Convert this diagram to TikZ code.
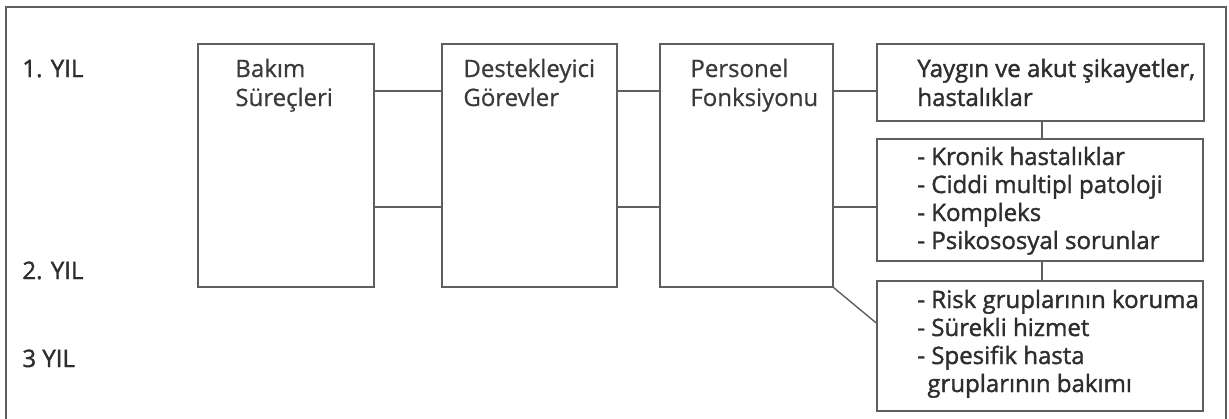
\documentclass[tikz,border=0pt]{standalone}
\usepackage{fontspec}
\setmainfont{Open Sans}
\newfontfamily\regf[FakeBold=0.7]{Open Sans}
\newfontfamily\semib[FakeBold=1.5]{Open Sans}
\usetikzlibrary{fit}
\definecolor{ink}{HTML}{3A3A3A}
\definecolor{inkdark}{HTML}{2E2E2E}
\definecolor{rulec}{HTML}{5E5E5E}
\begin{document}
\begin{tikzpicture}[x=0.5pt,y=-0.5pt,
  box/.style={draw=rulec, line width=0.75pt, inner sep=0pt},
  conn/.style={draw=rulec, line width=0.7pt},
  txt/.style={anchor=base west, inner sep=0pt, text=ink, font=\fontsize{12}{14}\selectfont\regf},
  btxt/.style={anchor=base west, inner sep=0pt, text=inkdark, font=\fontsize{12}{14}\selectfont\semib}
]
\useasboundingbox (0,0) rectangle (1229,418);
% outer frame
\draw[rulec, line width=0.7pt] (6,420) -- (6,7) -- (1226,7) -- (1226,420);

% helper coordinates
\coordinate (ya) at (0,91);
\coordinate (yb) at (0,207);
\coordinate (yc) at (0,323);
\coordinate (xv) at (1042,0);

% boxes
\node[box, fit={(198,44) (374,287)}] (b1) {};
\node[box, fit={(442,44) (617,287)}] (b2) {};
\node[box, fit={(660,44) (833,287)}] (b3) {};
\node[box, fit={(877,44) (1204,121)}] (r1) {};
\node[box, fit={(877,139) (1203,261)}] (r2) {};
\node[box, fit={(877,281) (1203,411)}] (r3) {};

% year labels
\node[btxt] (y1) at (22,77) {1. YIL};
\node[btxt] (y2) at (22,279) {2. YIL};
\node[btxt] (y3) at (22,367) {3 YIL};

% box texts
\node[txt] (t1a) at (235,77) {Bakım};
\node[txt] (t1b) at (235,106) {Süreçleri};
\node[txt] (t2a) at (463,77) {Destekleyici};
\node[txt] (t2b) at (463,106) {Görevler};
\node[txt] (t3a) at (690,77) {Personel};
\node[txt] (t3b) at (690,106) {Fonksiyonu};

\node[btxt] (r1a) at (917,77) {Yaygın ve akut şikayetler,};
\node[btxt] (r1b) at (917,106) {hastalıklar};

\node[btxt] (r2a) at (917,165) {- Kronik hastalıklar};
\node[btxt] (r2b) at (917,193) {- Ciddi multipl patoloji};
\node[btxt] (r2c) at (917,221) {- Kompleks};
\node[btxt] (r2d) at (917,249) {- Psikososyal sorunlar};

\node[btxt] (r3a) at (917,308) {- Risk gruplarının koruma};
\node[btxt] (r3b) at (917,336) {- Sürekli hizmet};
\node[btxt] (r3c) at (917,364) {- Spesifik hasta};
\node[btxt] (r3d) at (927,392) {gruplarının bakımı};

% connectors
\draw[conn] (b1.east |- ya) -- (b2.west |- ya);
\draw[conn] (b1.east |- yb) -- (b2.west |- yb);
\draw[conn] (b2.east |- ya) -- (b3.west |- ya);
\draw[conn] (b2.east |- yb) -- (b3.west |- yb);
\draw[conn] (b3.east |- ya) -- (r1.west |- ya);
\draw[conn] (b3.east |- yb) -- (r2.west |- yb);
\draw[conn] (b3.south east) -- (r3.west |- yc);
\draw[conn] (r1.south -| xv) -- (r2.north -| xv);
\draw[conn] (r2.south -| xv) -- (r3.north -| xv);
\end{tikzpicture}
\end{document}
